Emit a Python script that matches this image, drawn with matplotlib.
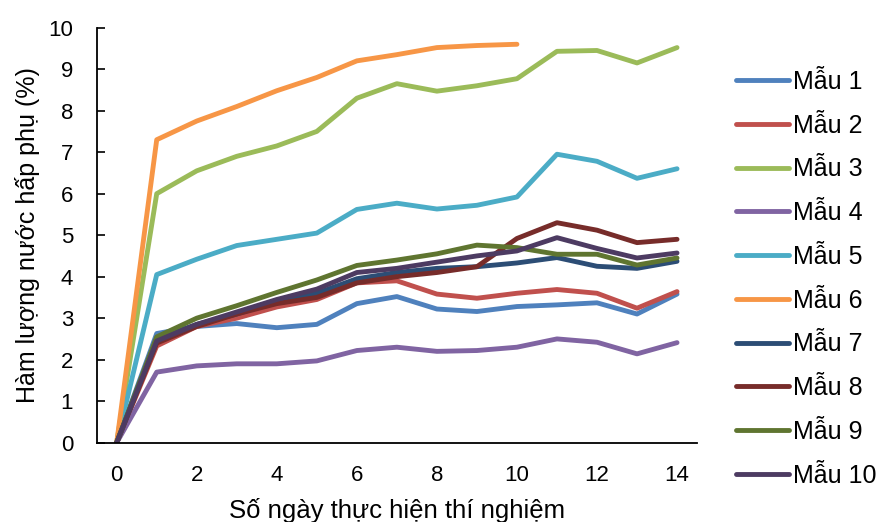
import matplotlib.pyplot as plt

plt.rcParams['font.family'] = ['Liberation Sans', 'DejaVu Sans']

# Days of the experiment
days = list(range(15))

# Adsorbed water content (%) per sample
mau1 = [0, 2.63, 2.80, 2.87, 2.77, 2.85, 3.35, 3.52, 3.22, 3.16, 3.28, 3.32, 3.37, 3.10, 3.58]
mau2 = [0, 2.33, 2.80, 3.00, 3.27, 3.45, 3.85, 3.90, 3.58, 3.48, 3.60, 3.69, 3.60, 3.24, 3.64]
mau3 = [0, 6.00, 6.55, 6.90, 7.15, 7.50, 8.30, 8.65, 8.47, 8.60, 8.77, 9.43, 9.45, 9.15, 9.52]
mau4 = [0, 1.70, 1.85, 1.90, 1.90, 1.97, 2.22, 2.30, 2.20, 2.22, 2.30, 2.50, 2.42, 2.14, 2.41]
mau5 = [0, 4.05, 4.42, 4.75, 4.90, 5.05, 5.62, 5.77, 5.63, 5.72, 5.92, 6.95, 6.78, 6.37, 6.60]
mau6 = [0, 7.30, 7.75, 8.10, 8.48, 8.80, 9.20, 9.35, 9.52, 9.57, 9.60]
mau7 = [0, 2.50, 2.85, 3.10, 3.40, 3.60, 3.95, 4.10, 4.20, 4.24, 4.33, 4.46, 4.25, 4.20, 4.37]
mau8 = [0, 2.40, 2.80, 3.10, 3.35, 3.50, 3.85, 4.00, 4.10, 4.24, 4.92, 5.30, 5.12, 4.82, 4.90]
mau9 = [0, 2.55, 3.00, 3.30, 3.62, 3.92, 4.27, 4.40, 4.55, 4.76, 4.70, 4.54, 4.54, 4.28, 4.45]
mau10 = [0, 2.45, 2.85, 3.15, 3.45, 3.70, 4.10, 4.20, 4.35, 4.50, 4.62, 4.94, 4.68, 4.45, 4.57]

series = [mau1, mau2, mau3, mau4, mau5, mau6, mau7, mau8, mau9, mau10]
labels = ['Mẫu 1', 'Mẫu 2', 'Mẫu 3', 'Mẫu 4', 'Mẫu 5',
          'Mẫu 6', 'Mẫu 7', 'Mẫu 8', 'Mẫu 9', 'Mẫu 10']
colors = ['#4F81BD', '#C0504D', '#9BBB59', '#8064A2', '#4BACC6',
          '#F79646', '#2C4D75', '#772C2A', '#5F7530', '#4D3B62']

fig = plt.figure(figsize=(8.79, 5.22), dpi=100)
ax = fig.add_axes([0.110, 0.152, 0.683, 0.795])

for vals, lab, col in zip(series, labels, colors):
    ax.plot(days[:len(vals)], vals, color=col, lw=3.5, label=lab,
            solid_capstyle='round', solid_joinstyle='round')

ax.set_xlim(-0.5, 14.5)
ax.set_ylim(0, 10)
ax.set_xticks(range(0, 15, 2))
ax.set_yticks(range(0, 11))
ax.tick_params(axis='x', length=0, pad=16, labelsize=16)
ax.tick_params(axis='y', direction='in', length=6, width=1.2, pad=17, labelsize=16)
for side in ['top', 'right']:
    ax.spines[side].set_visible(False)
for side in ['left', 'bottom']:
    ax.spines[side].set_linewidth(1.3)

ax.set_xlabel('Số ngày thực hiện thí nghiệm', fontsize=18.5, labelpad=9)
ax.set_ylabel('Hàm lượng nước hấp phụ (%)', fontsize=18, labelpad=6)

fig.legend(loc='upper left', bbox_to_anchor=(0.8375, 0.866), frameon=False,
           fontsize=18, handlelength=2.12, handletextpad=0.16, labelspacing=0.79,
           borderpad=0, borderaxespad=0)

fig.savefig('out.png', dpi=100)
